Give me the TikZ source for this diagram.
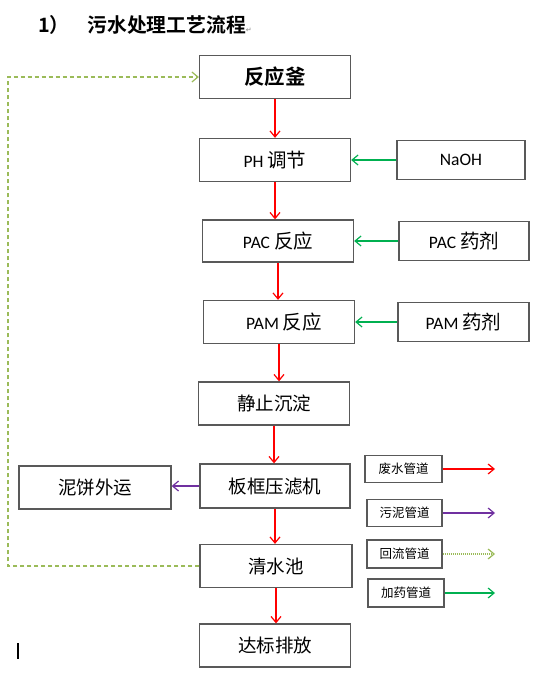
\documentclass[tikz,border=0pt]{standalone}
\usepackage{fontspec}
\setmainfont{Carlito}
\newfontfamily\cjk{Noto Sans CJK SC}
\newfontfamily\cjkb{Noto Sans CJK SC Bold}
\newfontfamily\dejavu{DejaVu Sans}
\usetikzlibrary{arrows.meta}
\definecolor{boxline}{HTML}{595959}
\definecolor{redflow}{HTML}{FF0000}
\definecolor{greenflow}{HTML}{00B050}
\definecolor{purpleflow}{HTML}{7030A0}
\definecolor{backflow}{HTML}{9BBB59}
\newcommand{\zh}[1]{{\cjk\fontsize{19.5}{21}\selectfont #1}}
\begin{document}
\begin{tikzpicture}[x=1pt,y=-1pt,
  box/.style={draw=boxline,line width=1.3pt,fill=white,inner sep=0pt,font=\fontsize{17.5}{20}\selectfont},
  zhbox/.style={box,font=\cjk\fontsize{18.5}{20}\selectfont},
  lbox/.style={draw=boxline,line width=1.1pt,fill=white,inner sep=0pt,font=\cjk\fontsize{12.5}{14}\selectfont},
  tip/.style={-{Straight Barb[length=6pt,width=10pt,line width=1.2pt]}},
  redarrow/.style={tip,draw=redflow,line width=1.3pt},
  greenarrow/.style={tip,draw=greenflow,line width=1.3pt},
  purplearrow/.style={tip,draw=purpleflow,line width=1.3pt},
  backarrow/.style={tip,draw=backflow,line width=1.3pt,dash pattern=on 4pt off 3pt},
  dotarrow/.style={tip,draw=backflow,line width=1.3pt,dash pattern=on 1pt off 1pt}]
\useasboundingbox (0,0) rectangle (545,679);
% title
\node[anchor=west,inner sep=0pt,font=\cjkb\fontsize{19.8}{21}\selectfont] (title) at (38,25) {1）\hspace{0.9em}污水处理工艺流程{\dejavu\color{gray}\fontsize{7}{8}\selectfont ↵}};
% main chain
\node[box,minimum width=151pt,minimum height=43pt,font=\cjkb\fontsize{20.5}{22}\selectfont] (r1) at (275,77) {反应釜\hspace{30pt}};
\node[box,minimum width=151pt,minimum height=43pt] (r2) at (275,160) {PH \zh{调节}};
\node[box,minimum width=128pt,minimum height=39pt] (naoh) at (461,160) {NaOH};
\node[box,minimum width=151pt,minimum height=42pt] (r3) at (278,241) {PAC \zh{反应}};
\node[box,minimum width=130pt,minimum height=39pt] (pac) at (464,241) {PAC \zh{药剂}};
\node[box,minimum width=151pt,minimum height=43pt] (r4) at (279,322) {\hspace{10pt}PAM \zh{反应}};
\node[box,minimum width=131pt,minimum height=39pt] (pam) at (463.5,322) {PAM \zh{药剂}};
\node[zhbox,minimum width=151pt,minimum height=43pt] (r5) at (274,403.5) {静止沉淀};
\node[zhbox,minimum width=150pt,minimum height=44pt] (r6) at (275,486) {板框压滤机};
\node[zhbox,minimum width=152pt,minimum height=43pt] (mud) at (95,487.5) {泥饼外运};
\node[zhbox,minimum width=152pt,minimum height=43pt] (r7) at (276,566) {清水池};
\node[zhbox,minimum width=151pt,minimum height=43pt] (r8) at (275,645.5) {达标排放};
% red flow
\draw[redarrow] (r1.south) -- (r1.south |- r2.north);
\draw[redarrow] (r2.south) -- (r2.south |- r3.north);
\draw[redarrow] (r3.south) -- (r3.south |- r4.north);
\draw[redarrow] (r4.south) -- (r4.south |- r5.north);
\draw[redarrow] (r5.south) -- (r5.south |- r6.north);
\draw[redarrow] (r6.south) -- (r6.south |- r7.north);
\draw[redarrow] (r7.south) -- (r7.south |- r8.north);
% dosing
\draw[greenarrow] (naoh.west) -- (naoh.west -| r2.east);
\draw[greenarrow] (pac.west) -- (pac.west -| r3.east);
\draw[greenarrow] (pam.west) -- (pam.west -| r4.east);
% sludge
\draw[purplearrow] (r6.west) -- (r6.west -| mud.east);
% return
\coordinate (bk) at (8,0);
\draw[backarrow] (r7.west) -- (r7.west -| bk) -- (r1.west -| bk) -- (r1.west);
% legend
\node[lbox,minimum width=77pt,minimum height=27pt] (l1) at (403.5,469) {废水管道};
\node[lbox,minimum width=75pt,minimum height=27pt] (l2) at (404.5,513) {污泥管道};
\node[lbox,minimum width=75pt,minimum height=28pt] (l3) at (404.5,554) {回流管道};
\node[lbox,minimum width=76pt,minimum height=28pt] (l4) at (406,593) {加药管道};
\coordinate (le) at (495,0);
\draw[redarrow] (l1.east) -- (l1.east -| le);
\draw[purplearrow] (l2.east) -- (l2.east -| le);
\draw[dotarrow] (l3.east) -- (l3.east -| le);
\draw[greenarrow] (l4.east) -- (l4.east -| le);
% text cursor
\draw[black,line width=1.3pt] (18,643) -- (18,659);
\end{tikzpicture}
\end{document}
